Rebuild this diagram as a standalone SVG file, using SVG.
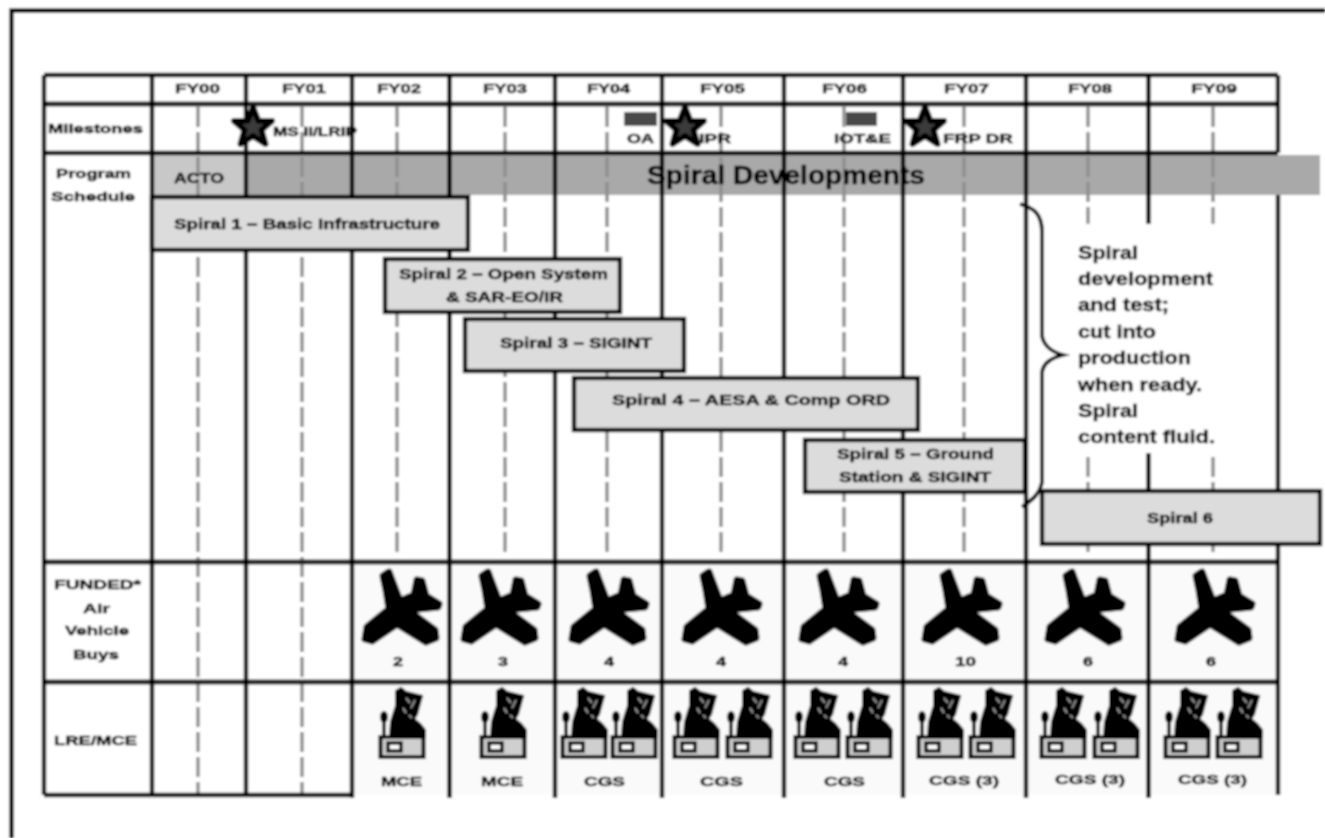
<svg xmlns="http://www.w3.org/2000/svg" width="1325" height="838" viewBox="0 0 1325 838">
<style>
text{font-family:"Liberation Sans",Arial,sans-serif;font-weight:bold;fill:#000;stroke:#000;stroke-width:.5;text-anchor:start}
.fy{font-size:13.500px}
.hd{font-size:13.500px}
.sp{font-size:15px}
.note{font-size:19px}
.ms{font-size:13px}
.n{font-size:13.500px}
.grid{stroke:#000;stroke-width:4.400;fill:none}
.gridsoft{stroke:#222;stroke-width:5;fill:none}
.dash{stroke:#909090;stroke-width:3.500;stroke-dasharray:20 5;fill:none}
.box{fill:#dcdcdc;stroke:#000;stroke-width:4.400}
.cell{fill:#fafafa}
.star{fill:#3a3a3a;stroke:#000;stroke-width:6;stroke-linejoin:round}
.mk{fill:#484848}
</style>
<defs>
<filter id="soft" x="0" y="0" width="100%" height="100%"><feGaussianBlur stdDeviation="0.8"/></filter>
<symbol id="plane" width="82" height="80" viewBox="0 0 82 80" overflow="visible">
<path d="M27 4 L21 8 L24 22 L27 41 L5 59 L3 71 L10 73 L35 56 L64 74 L74 70 L73 62 L46 42 L76 39 L77 36 L64 28 L60 13 L55 12 L52 27 L38 33 L30 12 Z" fill="#000" stroke="#000" stroke-width="7" stroke-linejoin="round"/>
</symbol>
<symbol id="site" width="46" height="70" viewBox="0 0 46 70" overflow="visible">
<path d="M11 49 L12 34 L15 24 L17 18 L17 3 L22 0 L27 4 L43 8 L41 15 L38 26 L35 31 L41 36 L46 42 L46 49 Z" fill="#000" stroke="#000" stroke-width="2"/>
<path d="M5 49 V26" stroke="#000" stroke-width="3.500"/>
<ellipse cx="5" cy="29" rx="4" ry="6" fill="#000"/>
<path d="M27 10 L31 15 M36 12 L32 20 M24 20 L27 25 M30 27 L33 30" stroke="#aaa" stroke-width="1.500" fill="none"/>
<rect x="1.500" y="49" width="43" height="20" fill="#cfcfcf" stroke="#000" stroke-width="4"/>
<rect x="9" y="55" width="13" height="8" fill="#fff" stroke="#000" stroke-width="3.500"/>
</symbol>
<polygon id="starshape" points="0,-20 5.500,-6 19,-6 8.500,3 12.500,17 0,9 -12.500,17 -8.500,3 -19,-6 -5.500,-6"/>
</defs>
<g filter="url(#soft)">
<rect width="1325" height="838" fill="#fff"/>
<g id="frame"><path d="M1325 10.500 H11.500 V838" class="grid"/></g>

<g id="cells">
<rect class="cell" x="354" y="565" width="924" height="115"/>
<rect class="cell" x="354" y="685" width="924" height="110"/>
</g>

<g id="band">
<rect x="152" y="155" width="94" height="40" fill="#c8c8c8"/>
<rect x="246" y="155" width="1074" height="40" fill="#a9a9a9"/>
</g>

<g id="connectors">
<g id="dashes" class="dash">
<path d="M198 107 V795"/>
<path d="M302 107 V795"/>
<path d="M397 107 V552"/>
<path d="M505 107 V552"/>
<path d="M607 107 V552"/>
<path d="M721 107 V552"/>
<path d="M844 107 V552"/>
<path d="M964 107 V552"/>
<path d="M1088 107 V552"/>
<path d="M1213 107 V552"/>
</g>
<g id="grid">
<path class="grid" d="M44 75 H1278 M44 153 H1278 M44 795 H352"/>
<path class="gridsoft" d="M44 104 H1278 M44 562 H1278 M44 682 H1278"/>
<path class="grid" d="M44 75 V795 M152 75 V795 M246 75 V795 M352 75 V798 M449.500 75 V798 M555 75 V798 M662 75 V798 M784 75 V798 M903 75 V798 M1026 75 V798 M1148.500 75 V798 M1278 75 V153 M1278 195 V795"/>
</g>
</g>

<g id="note-panel"><rect x="1045" y="224" width="228" height="229" fill="#fff"/></g>

<g id="header">
<text class="fy" x="175" y="93" textLength="45" lengthAdjust="spacingAndGlyphs">FY00</text>
<text class="fy" x="282" y="93" textLength="44" lengthAdjust="spacingAndGlyphs">FY01</text>
<text class="fy" x="377" y="93" textLength="44" lengthAdjust="spacingAndGlyphs">FY02</text>
<text class="fy" x="483" y="93" textLength="44" lengthAdjust="spacingAndGlyphs">FY03</text>
<text class="fy" x="587" y="93" textLength="43" lengthAdjust="spacingAndGlyphs">FY04</text>
<text class="fy" x="700" y="93" textLength="45" lengthAdjust="spacingAndGlyphs">FY05</text>
<text class="fy" x="822" y="93" textLength="45" lengthAdjust="spacingAndGlyphs">FY06</text>
<text class="fy" x="944" y="93" textLength="45" lengthAdjust="spacingAndGlyphs">FY07</text>
<text class="fy" x="1068" y="93" textLength="44" lengthAdjust="spacingAndGlyphs">FY08</text>
<text class="fy" x="1191" y="93" textLength="46" lengthAdjust="spacingAndGlyphs">FY09</text>
</g>

<g id="row-labels">
<text class="hd" x="48" y="133" textLength="95" lengthAdjust="spacingAndGlyphs">Milestones</text>
<text class="hd" x="56" y="178" textLength="75" lengthAdjust="spacingAndGlyphs">Program</text>
<text class="hd" x="51" y="201" textLength="84" lengthAdjust="spacingAndGlyphs">Schedule</text>
<text class="hd" x="54" y="589" textLength="87" lengthAdjust="spacingAndGlyphs">FUNDED*</text>
<text class="hd" x="83" y="613" textLength="27" lengthAdjust="spacingAndGlyphs">Air</text>
<text class="hd" x="65" y="635" textLength="64" lengthAdjust="spacingAndGlyphs">Vehicle</text>
<text class="hd" x="73" y="659" textLength="46" lengthAdjust="spacingAndGlyphs">Buys</text>
<text class="hd" x="54" y="745" textLength="83" lengthAdjust="spacingAndGlyphs">LRE/MCE</text>
</g>

<g id="milestones">
<g id="ms-lrip"><use href="#starshape" class="star" x="253" y="127"/><text class="ms" x="273" y="136" textLength="84" lengthAdjust="spacingAndGlyphs">MS II/LRIP</text></g>
<g id="ms-oa"><rect class="mk" x="624" y="112" width="33" height="14"/><text class="ms" x="627" y="143" textLength="27" lengthAdjust="spacingAndGlyphs">OA</text></g>
<g id="ms-ipr"><use href="#starshape" class="star" x="685" y="127"/><text class="ms" x="699" y="143" textLength="32" lengthAdjust="spacingAndGlyphs">IPR</text></g>
<g id="ms-iote"><rect class="mk" x="846" y="112" width="31" height="14"/><text class="ms" x="834" y="143" textLength="57" lengthAdjust="spacingAndGlyphs">IOT&amp;E</text></g>
<g id="ms-frp"><use href="#starshape" class="star" x="925" y="127"/><text class="ms" x="943" y="143" textLength="70" lengthAdjust="spacingAndGlyphs">FRP DR</text></g>
</g>

<g id="acto"><text x="174" y="183" style="font-size:15.500px" textLength="50" lengthAdjust="spacingAndGlyphs">ACTO</text></g>
<g id="spiral-developments"><text x="647" y="184" style="font-size:25px" textLength="278" lengthAdjust="spacingAndGlyphs">Spiral Developments</text></g>

<g id="spiral-1"><rect class="box" x="152" y="197" width="316" height="53"/><text class="sp" x="174" y="229" textLength="266" lengthAdjust="spacingAndGlyphs">Spiral 1 – Basic Infrastructure</text></g>
<g id="spiral-2"><rect class="box" x="385" y="259" width="235" height="53"/><text class="sp" x="399" y="279" textLength="209" lengthAdjust="spacingAndGlyphs">Spiral 2 – Open System</text><text class="sp" x="446" y="302" textLength="117" lengthAdjust="spacingAndGlyphs">&amp; SAR-EO/IR</text></g>
<g id="spiral-3"><rect class="box" x="465" y="319" width="219" height="52"/><text class="sp" x="500" y="348" textLength="152" lengthAdjust="spacingAndGlyphs">Spiral 3 – SIGINT</text></g>
<g id="spiral-4"><rect class="box" x="574" y="378" width="344" height="52"/><text class="sp" x="612" y="405" textLength="278" lengthAdjust="spacingAndGlyphs">Spiral 4 – AESA &amp; Comp ORD</text></g>
<g id="spiral-5"><rect class="box" x="805" y="440" width="220" height="52"/><text class="sp" x="837" y="459" textLength="157" lengthAdjust="spacingAndGlyphs">Spiral 5 – Ground</text><text class="sp" x="839" y="482" textLength="152" lengthAdjust="spacingAndGlyphs">Station &amp; SIGINT</text></g>

<g id="brace"><path d="M1020 204 C1034 208 1042 214 1042 232 V336 C1044 346 1052 352 1063 355 C1052 358 1044 362 1042 372 V482 C1040 494 1032 500 1022 507" fill="none" stroke="#000" stroke-width="3.800"/></g>

<g id="spiral-6"><rect class="box" x="1042" y="491" width="278" height="53"/><text class="sp" x="1147" y="523" textLength="66" lengthAdjust="spacingAndGlyphs">Spiral 6</text></g>

<g id="note">
<text class="note" x="1078" y="259" textLength="60" lengthAdjust="spacingAndGlyphs">Spiral</text>
<text class="note" x="1078" y="285" textLength="135" lengthAdjust="spacingAndGlyphs">development</text>
<text class="note" x="1078" y="311" textLength="91" lengthAdjust="spacingAndGlyphs">and test;</text>
<text class="note" x="1078" y="338" textLength="78" lengthAdjust="spacingAndGlyphs">cut into</text>
<text class="note" x="1078" y="364" textLength="113" lengthAdjust="spacingAndGlyphs">production</text>
<text class="note" x="1078" y="391" textLength="124" lengthAdjust="spacingAndGlyphs">when ready.</text>
<text class="note" x="1078" y="417" textLength="60" lengthAdjust="spacingAndGlyphs">Spiral</text>
<text class="note" x="1078" y="443" textLength="137" lengthAdjust="spacingAndGlyphs">content fluid.</text>
</g>

<g id="air-vehicles">
<g id="av-fy02"><use href="#plane" x="362" y="568"/><text class="n" x="393" y="666" textLength="10" lengthAdjust="spacingAndGlyphs">2</text></g>
<g id="av-fy03"><use href="#plane" x="461" y="568"/><text class="n" x="498" y="666" textLength="10" lengthAdjust="spacingAndGlyphs">3</text></g>
<g id="av-fy04"><use href="#plane" x="569" y="568"/><text class="n" x="604" y="666" textLength="10" lengthAdjust="spacingAndGlyphs">4</text></g>
<g id="av-fy05"><use href="#plane" x="682" y="568"/><text class="n" x="716" y="666" textLength="10" lengthAdjust="spacingAndGlyphs">4</text></g>
<g id="av-fy06"><use href="#plane" x="799" y="568"/><text class="n" x="838" y="666" textLength="10" lengthAdjust="spacingAndGlyphs">4</text></g>
<g id="av-fy07"><use href="#plane" x="922" y="568"/><text class="n" x="955" y="666" textLength="21" lengthAdjust="spacingAndGlyphs">10</text></g>
<g id="av-fy08"><use href="#plane" x="1045" y="568"/><text class="n" x="1083" y="666" textLength="10" lengthAdjust="spacingAndGlyphs">6</text></g>
<g id="av-fy09"><use href="#plane" x="1175" y="568"/><text class="n" x="1206" y="666" textLength="10" lengthAdjust="spacingAndGlyphs">6</text></g>
</g>

<g id="sites">
<g id="site-fy02"><use href="#site" x="379" y="688"/><text class="n" x="381" y="786" textLength="41" lengthAdjust="spacingAndGlyphs">MCE</text></g>
<g id="site-fy03"><use href="#site" x="480" y="688"/><text class="n" x="481" y="786" textLength="42" lengthAdjust="spacingAndGlyphs">MCE</text></g>
<g id="site-fy04"><use href="#site" x="561" y="688"/><use href="#site" x="611" y="688"/><text class="n" x="584" y="786" textLength="41" lengthAdjust="spacingAndGlyphs">CGS</text></g>
<g id="site-fy05"><use href="#site" x="673" y="688"/><use href="#site" x="726" y="688"/><text class="n" x="700" y="786" textLength="43" lengthAdjust="spacingAndGlyphs">CGS</text></g>
<g id="site-fy06"><use href="#site" x="794" y="688"/><use href="#site" x="846" y="688"/><text class="n" x="824" y="786" textLength="41" lengthAdjust="spacingAndGlyphs">CGS</text></g>
<g id="site-fy07"><use href="#site" x="917" y="688"/><use href="#site" x="969" y="688"/><text class="n" x="929" y="785" textLength="70" lengthAdjust="spacingAndGlyphs">CGS (3)</text></g>
<g id="site-fy08"><use href="#site" x="1040" y="688"/><use href="#site" x="1093" y="688"/><text class="n" x="1055" y="784" textLength="70" lengthAdjust="spacingAndGlyphs">CGS (3)</text></g>
<g id="site-fy09"><use href="#site" x="1164" y="688"/><use href="#site" x="1216" y="688"/><text class="n" x="1178" y="784" textLength="69" lengthAdjust="spacingAndGlyphs">CGS (3)</text></g>
</g>
</g>
</svg>
